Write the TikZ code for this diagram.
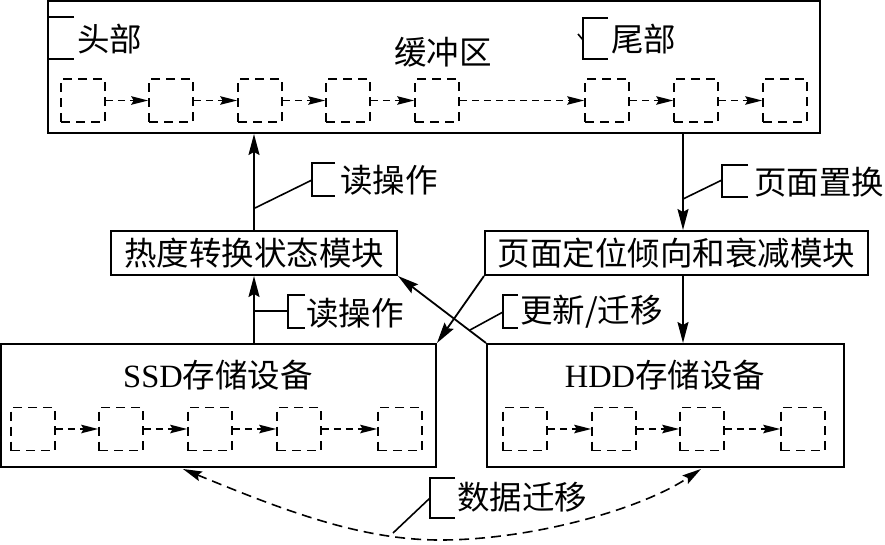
\documentclass[tikz,border=0pt]{standalone}
\usepackage{fontspec}
\setmainfont{Liberation Serif}
\newfontfamily\cjk{Noto Sans CJK SC}
\usetikzlibrary{arrows.meta}
\newcommand{\bigf}{\fontsize{32.5}{38}\selectfont}
\begin{document}
\begin{tikzpicture}[x=1pt,y=-1pt,
  frame/.style={draw, line width=2pt, inner sep=0pt},
  cell/.style={draw, line width=1.6pt, dash pattern=on 9pt off 6pt, minimum width=44pt, minimum height=43pt, inner sep=0pt},
  chain/.style={line width=1.6pt, dash pattern=on 7pt off 5pt, -{Stealth[length=17pt,width=8.5pt,inset=2.5pt]}},
  arr/.style={line width=1.8pt, -{Stealth[length=21pt,width=11pt,inset=3pt]}},
  mig/.style={line width=1.6pt, dash pattern=on 10pt off 6pt, {Stealth[length=19pt,width=10pt,inset=3pt]}-{Stealth[length=19pt,width=10pt,inset=3pt]}},
  lead/.style={line width=1.6pt},
  txt/.style={inner sep=0pt, font=\cjk\bigf},
  ltxt/.style={inner sep=0pt, font=\cjk\bigf, anchor=west}]
\useasboundingbox (0,0) rectangle (885,544);

% main frames
\node[frame, minimum width=772pt, minimum height=132pt] (buf) at (434,67) {};
\node[frame, minimum width=286pt, minimum height=44pt, font=\cjk\bigf] (hot) at (254,253) {热度转换状态模块};
\node[frame, minimum width=383pt, minimum height=44pt, font=\cjk\bigf] (pos) at (676.5,253) {页面定位倾向和衰减模块};
\node[frame, minimum width=435pt, minimum height=123pt] (ssd) at (218.5,405.5) {};
\node[frame, minimum width=357pt, minimum height=123pt] (hdd) at (665.5,405.5) {};

% titles
\node[txt] (buft) at (443,52) {缓冲区};
\node[inner sep=0pt, font=\bigf] (ssdt) at (218,375) {SSD{\cjk 存储设备}};
\node[inner sep=0pt, font=\bigf] (hddt) at (665,375) {HDD{\cjk 存储设备}};

% buffer cells
\foreach \n/\x in {1/83,2/171,3/260,4/348,5/437,6/607,7/696,8/785}
  \node[cell] (b\n) at (\x,100.5) {};
\foreach \a/\b in {1/2,2/3,3/4,4/5,5/6,6/7,7/8}
  \draw[chain] (b\a.east) -- (b\b.west);

% SSD cells
\foreach \n/\x in {1/33,2/121,3/210,4/299,5/400}
  \node[cell] (s\n) at (\x,429) {};
\foreach \a/\b in {1/2,2/3,3/4,4/5}
  \draw[chain] (s\a.east) -- (s\b.west);

% HDD cells
\foreach \n/\x in {1/525,2/614,3/702,4/803}
  \node[cell] (h\n) at (\x,429) {};
\foreach \a/\b in {1/2,2/3,3/4}
  \draw[chain] (h\a.east) -- (h\b.west);

% head / tail labels
\draw[lead] (74,17) -- (48,17) -- (48,59) -- (74,59);
\node[ltxt] (headt) at (77,39) {头部};
\coordinate (tl) at (578,34);
\draw[lead] (tl) -- (583,40);
\draw[lead] (608,18) -- (583,18) -- (583,59) -- (608,59);
\node[ltxt] (tailt) at (611,39) {尾部};

% main arrows
\coordinate (px) at (683,0);
\draw[arr] (hot.north) -- (hot.north |- buf.south);
\draw[arr] (hot.south |- ssd.north) -- (hot.south);
\draw[arr] (buf.south -| px) -- (pos.north -| px);
\draw[arr] (pos.south -| px) -- (hdd.north -| px);
\draw[arr] (pos.south west) -- (ssd.north east);
\draw[arr] (hdd.north west) -- (hot.south east);

% read op 1
\coordinate (r1) at (255,208);
\draw[lead] (r1) -- (312,180);
\draw[lead] (335,163) -- (312,163) -- (312,196) -- (335,196);
\node[ltxt] (r1t) at (340,180) {读操作};

% read op 2
\coordinate (r2) at (255,311);
\draw[lead] (r2) -- (288,311);
\draw[lead] (305,295) -- (288,295) -- (288,328) -- (305,328);
\node[ltxt] (r2t) at (306,313) {读操作};

% page replace
\coordinate (pr) at (683,199);
\draw[lead] (pr) -- (722,180);
\draw[lead] (748,165) -- (722,165) -- (722,197) -- (748,197);
\node[ltxt] (prt) at (754,182) {页面置换};

% update / migrate
\coordinate (um) at (470,330);
\draw[lead] (um) -- (503,312);
\draw[lead] (518,295) -- (503,295) -- (503,328) -- (518,328);
\node[ltxt] (umt) at (520,312) {更新/迁移};

% data migration
\coordinate (dl) at (183,469);
\coordinate (dm) at (440,540);
\coordinate (dr) at (701,469);
\draw[mig] (dl) .. controls (283,510) and (360,540) .. (dm) .. controls (530,540) and (640,510) .. (dr);
\coordinate (dmig) at (393,533);
\draw[lead] (dmig) -- (430,498);
\draw[lead] (455,478) -- (430,478) -- (430,518) -- (455,518);
\node[ltxt] (dmt) at (457,497) {数据迁移};
\end{tikzpicture}
\end{document}
